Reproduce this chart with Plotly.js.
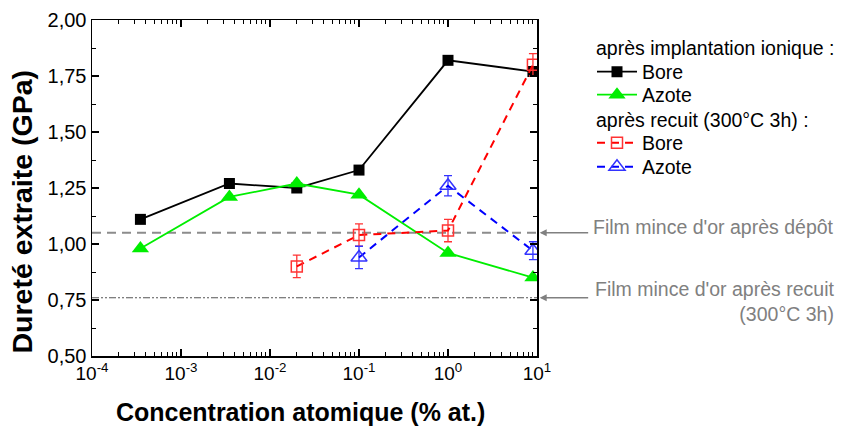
<!DOCTYPE html>
<html>
<head>
<meta charset="utf-8">
<script src="https://cdn.plot.ly/plotly-3.0.1.min.js"></script>
<style>html,body{margin:0;padding:0;background:#fff;}#chart{width:841px;height:427px;}</style>
</head>
<body>
<div id="chart"></div>
<script>
// Concentration (% at.)
var xImpl = [3.5e-4, 3.5e-3, 0.02, 0.1, 1, 9];
var boreImpl = [1.11, 1.27, 1.25, 1.33, 1.82, 1.77];
var azoteImpl = [0.98, 1.21, 1.27, 1.22, 0.96, 0.85];

var xBoreRecuit = [0.02, 0.1, 1, 9];
var boreRecuit = [0.90, 1.04, 1.06, 1.80];
var boreRecuitErr = [0.05, 0.05, 0.05, 0.05];

var xAzoteRecuit = [0.1, 1, 9];
var azoteRecuit = [0.94, 1.26, 0.97];
var azoteRecuitErr = [0.05, 0.045, 0.04];

// Reference levels (gold film)
var refLevels = [1.05, 0.76];
var refLabels = ["Film mince d'or après dépôt", "Film mince d'or après recuit<br>(300°C 3h)"];

// Legend headers
var groupTitles = ["après implantation ionique :", "après recuit (300°C 3h) :"];

var xTickVals = [1e-4, 1e-3, 1e-2, 1e-1, 1, 10];
var xTickText = ["10<sup>-4</sup>", "10<sup>-3</sup>", "10<sup>-2</sup>", "10<sup>-1</sup>", "10<sup>0</sup>", "10<sup>1</sup>"];

var FONT = "Liberation Sans, Arial, sans-serif";
var W = 841, H = 427;

var traces = [
  {x: xImpl, y: boreImpl, name: "Bore", mode: "lines+markers", type: "scatter", legend: "legend",
   line: {color: "#000000", width: 1.8},
   marker: {symbol: "square", size: 11, color: "#000000"}},
  {x: xImpl, y: azoteImpl, name: "Azote", mode: "lines+markers", type: "scatter", legend: "legend2",
   line: {color: "#00ee00", width: 1.8},
   marker: {symbol: "triangle-up", size: 15, color: "#00ee00"}},
  {x: xBoreRecuit, y: boreRecuit, name: "Bore", mode: "lines+markers", type: "scatter", legend: "legend3",
   line: {color: "#ff0000", width: 2, dash: "8px,6px"},
   marker: {symbol: "square-open", size: 11, color: "#ff3333", line: {width: 1.5}},
   error_y: {type: "data", array: boreRecuitErr, visible: true, color: "#ff3333", thickness: 1.3, width: 4}},
  {x: xAzoteRecuit, y: azoteRecuit, name: "Azote", mode: "lines+markers", type: "scatter", legend: "legend4",
   line: {color: "#0000ff", width: 2, dash: "8px,6px"},
   marker: {symbol: "triangle-up-open", size: 14, color: "#3333ff", line: {width: 1.5}},
   error_y: {type: "data", array: azoteRecuitErr, visible: true, color: "#3333ff", thickness: 1.3, width: 4}}
];

var shapes = [
  {type: "line", xref: "paper", x0: 0, x1: 1, yref: "y", y0: refLevels[0], y1: refLevels[0],
   line: {color: "#8c8c8c", width: 2, dash: "9px,6px"}, layer: "below"},
  {type: "line", xref: "paper", x0: 0, x1: 1, yref: "y", y0: refLevels[1], y1: refLevels[1],
   line: {color: "#555555", width: 1.2, dash: "7px,2px,2px,2px,2px,2px"}, layer: "below"}
];

var annotations = [
  {xref: "paper", yref: "y", x: 1.006, y: refLevels[0], ax: 50, ay: 0, text: "", showarrow: true,
   arrowhead: 2, arrowsize: 1, arrowwidth: 1.4, arrowcolor: "#808080"},
  {xref: "paper", yref: "y", x: 1.006, y: refLevels[1], ax: 50, ay: 0, text: "", showarrow: true,
   arrowhead: 2, arrowsize: 1, arrowwidth: 1.4, arrowcolor: "#808080"},
  {xref: "paper", yref: "paper", x: 1.672, y: 0.385, xanchor: "right", yanchor: "middle", align: "right",
   text: refLabels[0], showarrow: false, font: {size: 19.5, color: "#808080", family: FONT}},
  {xref: "paper", yref: "paper", x: 1.672, y: 0.163, xanchor: "right", yanchor: "middle", align: "right",
   text: refLabels[1], showarrow: false, font: {size: 19.5, color: "#808080", family: FONT}},
  {xref: "paper", yref: "paper", x: 1.128, y: 0.917, xanchor: "left", yanchor: "middle", align: "left",
   text: groupTitles[0], showarrow: false, font: {size: 19.5, color: "#000", family: FONT}},
  {xref: "paper", yref: "paper", x: 1.128, y: 0.702, xanchor: "left", yanchor: "middle", align: "left",
   text: groupTitles[1], showarrow: false, font: {size: 19.5, color: "#000", family: FONT}}
];

function leg(py) {
  return {xref: "container", yref: "container", x: 592 / W, y: 1 - py / H, xanchor: "left", yanchor: "middle",
          font: {size: 19.5}, bgcolor: "rgba(0,0,0,0)", borderwidth: 0, itemwidth: 40};
}

var layout = {
  width: W, height: H,
  margin: {l: 92, r: 304, t: 20, b: 71},
  paper_bgcolor: "#ffffff", plot_bgcolor: "#ffffff",
  font: {family: FONT, size: 19, color: "#000000"},
  separators: ", ",
  showlegend: true,
  legend: leg(72), legend2: leg(95), legend3: leg(143), legend4: leg(167),
  xaxis: {
    type: "log", range: [-4, 1],
    tickvals: xTickVals, ticktext: xTickText,
    ticks: "inside", ticklen: 7, tickwidth: 1.3, tickcolor: "#000",
    minor: {dtick: "D1", ticks: "inside", ticklen: 4, tickwidth: 1, tickcolor: "#000", showgrid: false},
    showline: true, linecolor: "#000", linewidth: 1.5, mirror: "ticks",
    showgrid: false, zeroline: false,
    tickfont: {size: 19},
    title: {text: "<b>Concentration atomique (% at.)&nbsp;&nbsp;&nbsp;&nbsp;</b>", font: {size: 25}, standoff: 20}
  },
  yaxis: {
    range: [0.5, 2.0], dtick: 0.25, tick0: 0.5, tickformat: ".2f",
    ticks: "inside", ticklen: 7, tickwidth: 1.3, tickcolor: "#000",
    minor: {dtick: 0.125, ticks: "inside", ticklen: 4, tickwidth: 1, tickcolor: "#000", showgrid: false},
    showline: true, linecolor: "#000", linewidth: 1.5, mirror: "ticks",
    showgrid: false, zeroline: false,
    tickfont: {size: 20},
    title: {text: "<b>Dureté extraite (GPa)&nbsp;&nbsp;&nbsp;&nbsp;&nbsp;&nbsp;</b>", font: {size: 28.5}, standoff: 6}
  },
  shapes: shapes,
  annotations: annotations
};

Plotly.newPlot("chart", traces, layout, {displayModeBar: false, staticPlot: true});
</script>
</body>
</html>
